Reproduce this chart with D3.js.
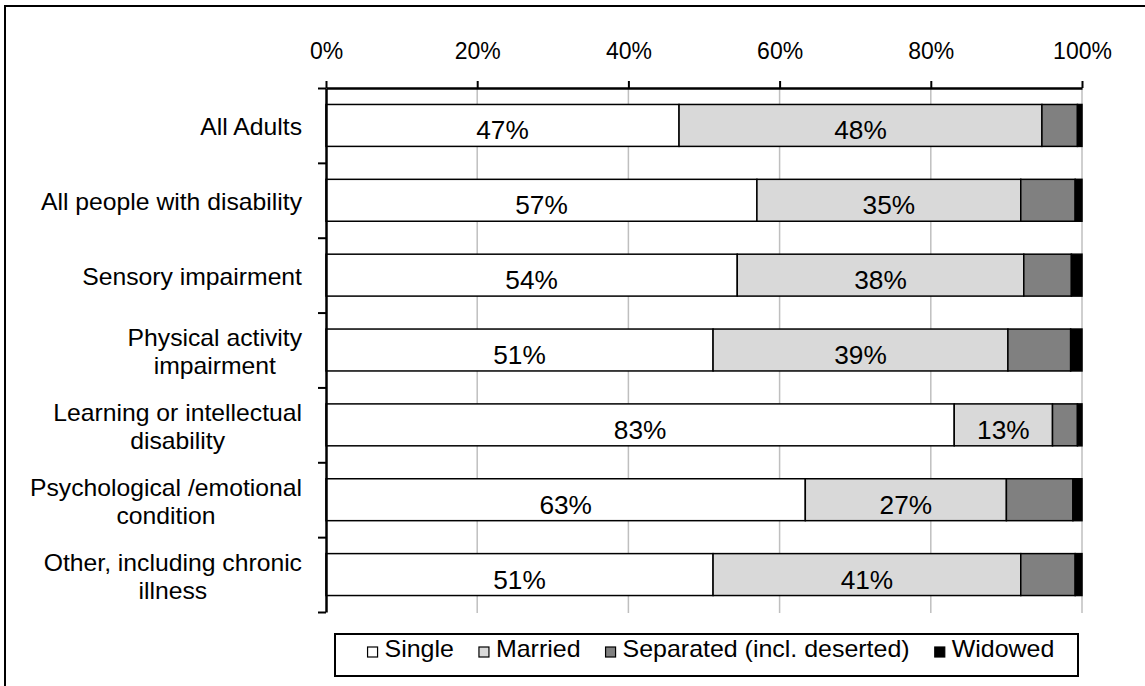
<!DOCTYPE html>
<html>
<head>
<meta charset="utf-8">
<script src="https://cdn.jsdelivr.net/npm/d3@7"></script>
<style>
  html, body { margin: 0; padding: 0; background: #fff; }
  svg { display: block; }
  text { font-family: "Liberation Sans", Arial, sans-serif; fill: #000; }
</style>
</head>
<body>
<svg id="chart" width="1145" height="686"></svg>
<script>
// ---- data ----
const categories = [
  "All Adults",
  "All people with disability",
  "Sensory impairment",
  "Physical activity\nimpairment",
  "Learning or intellectual\ndisability",
  "Psychological /emotional\ncondition",
  "Other, including chronic\nillness"
];
const seriesNames = ["Single", "Married", "Separated (incl. deserted)", "Widowed"];
const single    = [46.7, 57.0, 54.4, 51.2, 83.1, 63.4, 51.2];
const married   = [48.0, 34.9, 37.9, 39.0, 13.0, 26.6, 40.7];
const separated = [4.7, 7.2, 6.3, 8.3, 3.3, 8.8, 7.2];
const widowed   = [0.6, 0.9, 1.4, 1.5, 0.6, 1.2, 0.9];
const xTicks = [0, 20, 40, 60, 80, 100];
const labelledSeries = ["Single", "Married"];

// ---- styling ----
const colors = { "Single": "#ffffff", "Married": "#d9d9d9", "Separated (incl. deserted)": "#808080", "Widowed": "#000000" };

const rows = categories.map((c, i) => ({
  cat: c,
  "Single": single[i], "Married": married[i],
  "Separated (incl. deserted)": separated[i], "Widowed": widowed[i]
}));

const svg = d3.select("#chart");

// outer frame
svg.append("rect").attr("x", 5).attr("y", 6).attr("width", 1160).attr("height", 700)
  .attr("fill", "none").attr("stroke", "#000").attr("stroke-width", 2);

const x = d3.scaleLinear().domain([0, 100]).range([326, 1082]);
const y = d3.scaleBand().domain(categories).range([88, 612]).paddingInner(0.44).paddingOuter(0.22);
const yEdge = d3.scaleLinear().domain([0, categories.length]).range([88, 612]);

// gridlines
svg.append("g").selectAll("line").data(xTicks.filter(d => d > 0)).join("line")
  .attr("x1", d => x(d)).attr("x2", d => x(d))
  .attr("y1", 88).attr("y2", 613)
  .attr("stroke", "#bfbfbf").attr("stroke-width", 1.5);

// bars
const stack = d3.stack().keys(seriesNames)(rows);
const gBars = svg.append("g");
stack.forEach(layer => {
  gBars.append("g").selectAll("rect").data(layer).join("rect")
    .attr("x", d => x(d[0]))
    .attr("y", d => y(d.data.cat))
    .attr("width", d => x(d[1]) - x(d[0]))
    .attr("height", y.bandwidth())
    .attr("fill", colors[layer.key])
    .attr("stroke", "#000").attr("stroke-width", 1.5);
});

// data labels
stack.filter(l => labelledSeries.includes(l.key)).forEach(layer => {
  gBars.append("g").selectAll("text").data(layer).join("text")
    .attr("transform", d => `translate(${(x(d[0]) + x(d[1])) / 2},${y(d.data.cat) + y.bandwidth() / 2 + 14}) scale(1.05,1)`)
    .attr("text-anchor", "middle")
    .style("font-size", "25px")
    .text(d => Math.round(d[1] - d[0]) + "%");
});

// top axis
const topAxis = svg.append("g").attr("transform", "translate(0,88)")
  .call(d3.axisTop(x).tickValues(xTicks).tickFormat(d => d + "%").tickSize(7).tickSizeOuter(0).tickPadding(22));
topAxis.select(".domain").attr("stroke", "#000").attr("stroke-width", 2.5);
topAxis.selectAll(".tick line").attr("stroke", "#000").attr("stroke-width", 2);
topAxis.selectAll(".tick text").attr("font-family", null).style("font-size", "23px");

// left axis (category boundaries)
const leftAxis = svg.append("g").attr("transform", "translate(326,0)")
  .call(d3.axisLeft(yEdge).tickValues(d3.range(categories.length + 1)).tickFormat("").tickSize(8).tickSizeOuter(0));
leftAxis.select(".domain").attr("stroke", "#000").attr("stroke-width", 2.5);
leftAxis.selectAll(".tick line").attr("stroke", "#000").attr("stroke-width", 2);

// category labels
const CSX = 1.03;
const gCat = svg.append("g");
categories.forEach(c => {
  const lines = c.split("\n");
  const cy = y(c) + y.bandwidth() / 2;
  const g = gCat.append("g");
  const texts = lines.map(ln => g.append("text")
    .attr("text-anchor", "middle")
    .style("font-size", "24px")
    .text(ln));
  const maxW = d3.max(texts, t => t.node().getComputedTextLength()) * CSX;
  const cx = 302 - maxW / 2;
  const base = cy + 10 - (lines.length - 1) * 14;
  texts.forEach((t, i) => t.attr("transform", `translate(${cx},${base + i * 28}) scale(${CSX},1)`));
});

// legend
const LSX = 1.04;
const lg = svg.append("g");
lg.append("rect").attr("x", 335).attr("y", 634).attr("width", 743).attr("height", 42)
  .attr("fill", "#fff").attr("stroke", "#000").attr("stroke-width", 2);
const items = lg.selectAll("g.item").data(seriesNames).join("g").attr("class", "item");
items.append("rect").attr("width", 10).attr("height", 10).attr("y", 647)
  .attr("fill", d => colors[d]).attr("stroke", "#000").attr("stroke-width", 1.2);
items.append("text").style("font-size", "24px").text(d => d);
const gapSq = 6, gapItem = 25;
const widths = [];
items.each(function() {
  const w = d3.select(this).select("text").node().getComputedTextLength() * LSX;
  widths.push(11 + gapSq + w);
});
const total = d3.sum(widths) + gapItem * (widths.length - 1);
let cur = 711 - total / 2;
items.each(function(d, i) {
  const g = d3.select(this);
  g.select("rect").attr("x", cur);
  g.select("text").attr("transform", `translate(${cur + 11 + gapSq},657) scale(${LSX},1)`);
  cur += widths[i] + gapItem;
});
</script>
</body>
</html>
